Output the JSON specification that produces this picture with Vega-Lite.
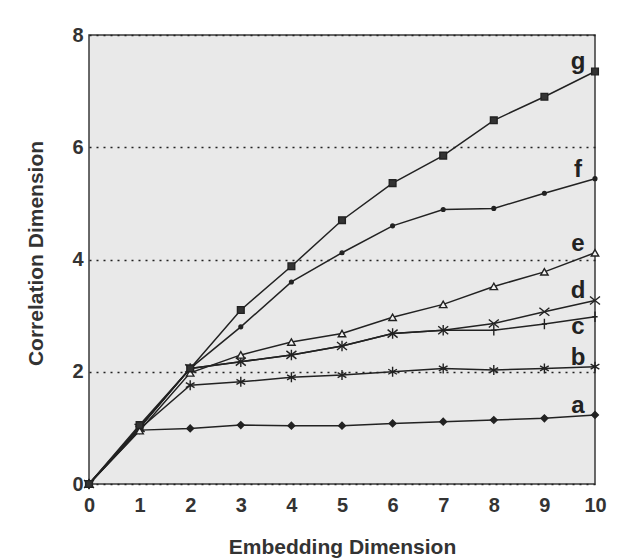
{
  "$schema": "https://vega.github.io/schema/vega-lite/v6.json",
  "width": 506,
  "height": 449,
  "autosize": "none",
  "padding": {"left": 89, "top": 35, "right": 46, "bottom": 76},
  "background": "white",
  "config": {
    "view": {"fill": "#e9e9e9", "stroke": "#3a3a3a", "strokeWidth": 1.5},
    "font": "Liberation Sans"
  },
  "data": {
    "values": [
      {"s": "a", "x": 0, "v": 0}, {"s": "a", "x": 1, "v": 0.96}, {"s": "a", "x": 2, "v": 0.99}, {"s": "a", "x": 3, "v": 1.05}, {"s": "a", "x": 4, "v": 1.04}, {"s": "a", "x": 5, "v": 1.04}, {"s": "a", "x": 6, "v": 1.08}, {"s": "a", "x": 7, "v": 1.11}, {"s": "a", "x": 8, "v": 1.14}, {"s": "a", "x": 9, "v": 1.17}, {"s": "a", "x": 10, "v": 1.23},
      {"s": "b", "x": 0, "v": 0}, {"s": "b", "x": 1, "v": 0.98}, {"s": "b", "x": 2, "v": 1.76}, {"s": "b", "x": 3, "v": 1.82}, {"s": "b", "x": 4, "v": 1.9}, {"s": "b", "x": 5, "v": 1.94}, {"s": "b", "x": 6, "v": 2.0}, {"s": "b", "x": 7, "v": 2.06}, {"s": "b", "x": 8, "v": 2.03}, {"s": "b", "x": 9, "v": 2.06}, {"s": "b", "x": 10, "v": 2.09},
      {"s": "c", "x": 0, "v": 0}, {"s": "c", "x": 1, "v": 1.0}, {"s": "c", "x": 2, "v": 2.06}, {"s": "c", "x": 3, "v": 2.18}, {"s": "c", "x": 4, "v": 2.3}, {"s": "c", "x": 5, "v": 2.46}, {"s": "c", "x": 6, "v": 2.68}, {"s": "c", "x": 7, "v": 2.74}, {"s": "c", "x": 8, "v": 2.74}, {"s": "c", "x": 9, "v": 2.85}, {"s": "c", "x": 10, "v": 2.98},
      {"s": "d", "x": 0, "v": 0}, {"s": "d", "x": 1, "v": 1.0}, {"s": "d", "x": 2, "v": 2.06}, {"s": "d", "x": 3, "v": 2.18}, {"s": "d", "x": 4, "v": 2.3}, {"s": "d", "x": 5, "v": 2.46}, {"s": "d", "x": 6, "v": 2.68}, {"s": "d", "x": 7, "v": 2.74}, {"s": "d", "x": 8, "v": 2.86}, {"s": "d", "x": 9, "v": 3.07}, {"s": "d", "x": 10, "v": 3.27},
      {"s": "e", "x": 0, "v": 0}, {"s": "e", "x": 1, "v": 0.95}, {"s": "e", "x": 2, "v": 1.98}, {"s": "e", "x": 3, "v": 2.3}, {"s": "e", "x": 4, "v": 2.53}, {"s": "e", "x": 5, "v": 2.68}, {"s": "e", "x": 6, "v": 2.97}, {"s": "e", "x": 7, "v": 3.2}, {"s": "e", "x": 8, "v": 3.52}, {"s": "e", "x": 9, "v": 3.78}, {"s": "e", "x": 10, "v": 4.12},
      {"s": "f", "x": 0, "v": 0}, {"s": "f", "x": 1, "v": 1.02}, {"s": "f", "x": 2, "v": 2.06}, {"s": "f", "x": 3, "v": 2.8}, {"s": "f", "x": 4, "v": 3.6}, {"s": "f", "x": 5, "v": 4.12}, {"s": "f", "x": 6, "v": 4.6}, {"s": "f", "x": 7, "v": 4.89}, {"s": "f", "x": 8, "v": 4.91}, {"s": "f", "x": 9, "v": 5.18}, {"s": "f", "x": 10, "v": 5.44},
      {"s": "g", "x": 0, "v": 0}, {"s": "g", "x": 1, "v": 1.05}, {"s": "g", "x": 2, "v": 2.06}, {"s": "g", "x": 3, "v": 3.1}, {"s": "g", "x": 4, "v": 3.88}, {"s": "g", "x": 5, "v": 4.7}, {"s": "g", "x": 6, "v": 5.36}, {"s": "g", "x": 7, "v": 5.85}, {"s": "g", "x": 8, "v": 6.48}, {"s": "g", "x": 9, "v": 6.9}, {"s": "g", "x": 10, "v": 7.35}
    ]
  },
  "encoding": {
    "x": {
      "field": "x", "type": "quantitative",
      "scale": {"domain": [0, 10], "nice": false},
      "axis": {
        "title": "Embedding Dimension", "values": [0,1,2,3,4,5,6,7,8,9,10],
        "grid": false, "ticks": false, "domain": false, "labelFlush": false, "labelOverlap": false,
        "labelFontSize": 20, "labelFontWeight": "bold", "labelColor": "#333", "labelPadding": 11,
        "titleFontSize": 21, "titleFontWeight": "bold", "titleColor": "#333", "titlePadding": 21
      }
    },
    "y": {
      "field": "v", "type": "quantitative",
      "scale": {"domain": [0, 8], "nice": false},
      "axis": {
        "title": "Correlation Dimension", "values": [0,2,4,6,8],
        "grid": true, "gridDash": [2, 5], "gridColor": "#222", "gridWidth": 1.3,
        "ticks": false, "domain": false, "labelFlush": false, "labelOverlap": false,
        "labelFontSize": 20, "labelFontWeight": "bold", "labelColor": "#333", "labelPadding": 6,
        "titleFontSize": 21, "titleFontWeight": "bold", "titleColor": "#333",
        "titleX": -53, "titleY": 218, "titleAlign": "center", "titleBaseline": "middle"
      }
    }
  },
  "layer": [
    {
      "mark": {"type": "line", "color": "#222", "strokeWidth": 1.5},
      "encoding": {"detail": {"field": "s"}}
    },
    {
      "mark": {"type": "point", "filled": true, "opacity": 1, "strokeWidth": 1.4},
      "encoding": {
        "shape": {"field": "s", "legend": null, "scale": {"domain": ["a","b","c","d","e","f","g"], "range": ["diamond", "M-0.87,-0.5L0.87,0.5M-0.87,0.5L0.87,-0.5M0,-1L0,1", "M0,-1L0,1M-0.5,0L0.5,0", "M-1,-0.8L1,0.8M-1,0.8L1,-0.8", "triangle-up", "circle", "square"]}},
        "fill": {"field": "s", "legend": null, "scale": {"domain": ["a","b","c","d","e","f","g"], "range": ["#222", "#222", "#222", "#222", "#f2f2f2", "#222", "#333"]}},
        "size": {"field": "s", "legend": null, "scale": {"type": "ordinal", "domain": ["a","b","c","d","e","f","g"], "range": [45, 100, 110, 100, 55, 14, 45]}},
        "stroke": {"value": "#222"}
      }
    },
    {
      "transform": [{"filter": "datum.x == 10 && datum.s != 'c'"}],
      "mark": {"type": "text", "dx": -17, "dy": -2, "fontSize": 24, "fontWeight": "bold", "align": "center", "baseline": "alphabetic", "color": "#222"},
      "encoding": {"text": {"field": "s"}}
    },
    {
      "transform": [{"filter": "datum.x == 10 && datum.s == 'c'"}],
      "mark": {"type": "text", "dx": -17, "dy": 17, "fontSize": 24, "fontWeight": "bold", "align": "center", "baseline": "alphabetic", "color": "#222"},
      "encoding": {"text": {"field": "s"}}
    }
  ]
}
